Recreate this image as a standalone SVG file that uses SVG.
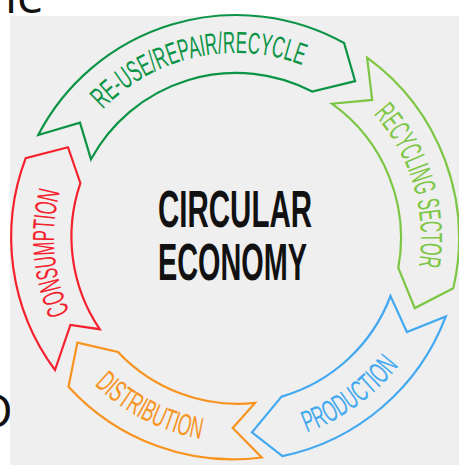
<svg xmlns="http://www.w3.org/2000/svg" width="459" height="465" viewBox="0 0 459 465">
  <style>
    .band { fill: none; stroke-width: 2.2; stroke-linejoin: miter; }
    .lbl { font-family: "Liberation Sans", Arial, sans-serif; font-size: 30.5px; }
    .page { font-family: "Open Sans", "Liberation Sans", sans-serif; font-size: 48px; fill: #111; }
    .title { font-family: "Liberation Sans", Arial, sans-serif; font-weight: bold; font-size: 52px; fill: #111; }
  </style>
  <defs>
    <!-- baselines for the curved labels, centred on (236,238) -->
    <path id="arc-reuse" d="M102.9,109.5 A185,185 0 0 1 302.3,65.3"/>
    <path id="arc-recycling" d="M373.5,114.2 A185,185 0 0 1 418.7,266.9"/>
    <path id="arc-production" d="M306.8,432.5 A207,207 0 0 0 399.1,365.4"/>
    <path id="arc-distribution" d="M94.3,384.7 A204,204 0 0 0 200.6,438.9"/>
    <path id="arc-consumption" d="M69.7,312 A182,182 0 0 1 60.2,190.9"/>
  </defs>

  <rect x="0" y="0" width="459" height="465" fill="#ffffff"/>
  <!-- surrounding page text -->
  <text class="page" x="5" y="12.5">le</text>
  <text class="page" x="-22" y="428">D</text>

  <rect x="10" y="16" width="449" height="449" fill="#efefef"/>

  <g id="reuse">
    <path class="band" stroke="#0b9446" d="M38.2,135 A223,223 0 0 1 344.1,43 L355.1,81.1 L312.2,91.6 A165,165 0 0 0 91,159.3 L80,122.6 Z"/>
    <text class="lbl" fill="#0b9446"><textPath href="#arc-reuse" textLength="216" lengthAdjust="spacingAndGlyphs">RE-USE/REPAIR/RECYCLE</textPath></text>
  </g>

  <g id="recycling">
    <path class="band" stroke="#7cc644" d="M367.1,57.6 A223,223 0 0 1 453.3,288.2 L414.8,308.1 L398.3,267.8 A165,165 0 0 0 331.8,103.7 L372.2,99.9 Z"/>
    <text class="lbl" fill="#7cc644"><textPath href="#arc-recycling" textLength="164" lengthAdjust="spacingAndGlyphs">RECYCLING SECTOR</textPath></text>
  </g>

  <g id="production">
    <path class="band" stroke="#42a8f0" d="M445.8,316.4 A223,223 0 0 1 282.4,456.1 L252,432.3 L281.5,396.6 A165,165 0 0 0 390.5,296 L406.9,332 Z"/>
    <text class="lbl" fill="#42a8f0"><textPath href="#arc-production" textLength="115" lengthAdjust="spacingAndGlyphs">PRODUCTION</textPath></text>
  </g>

  <g id="distribution">
    <path class="band" stroke="#f7931e" d="M261.8,457.5 A223,223 0 0 1 68.5,386.7 L77.4,342.6 L118,351.9 A165,165 0 0 0 255.1,402.9 L232.7,428 Z"/>
    <text class="lbl" fill="#f7931e"><textPath href="#arc-distribution" textLength="121" lengthAdjust="spacingAndGlyphs">DISTRIBUTION</textPath></text>
  </g>

  <g id="consumption">
    <path class="band" stroke="#f5222d" d="M55,370 A223,223 0 0 1 25.7,158.1 L68,147.2 L80.4,183.2 A165,165 0 0 0 99.7,329.2 L70.4,324.9 Z"/>
    <text class="lbl" fill="#f5222d"><textPath href="#arc-consumption" textLength="123" lengthAdjust="spacingAndGlyphs">CONSUMPTION</textPath></text>
  </g>

  <g id="title">
    <text class="title" x="158" y="227" textLength="154" lengthAdjust="spacingAndGlyphs">CIRCULAR</text>
    <text class="title" x="158" y="280" textLength="149" lengthAdjust="spacingAndGlyphs">ECONOMY</text>
  </g>
</svg>
